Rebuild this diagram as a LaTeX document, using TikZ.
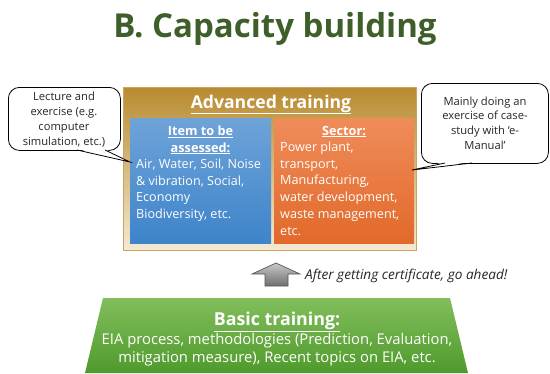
\documentclass[tikz,border=0pt]{standalone}
\usepackage{fontspec}
\setmainfont{Open Sans}
\usetikzlibrary{calc}
\definecolor{titlegreen}{HTML}{3F5F2A}
\definecolor{goldc}{HTML}{B98B30}
\definecolor{creamc}{HTML}{F4EAD2}
\definecolor{framec}{HTML}{C9A463}
\definecolor{blueA}{HTML}{6FA3D8}
\definecolor{blueB}{HTML}{3D84CA}
\definecolor{orangeA}{HTML}{EF8C5A}
\definecolor{orangeM}{HTML}{F07A2A}
\definecolor{orangeB}{HTML}{E2692A}
\definecolor{greenA}{HTML}{82BE5C}
\definecolor{greenB}{HTML}{4F9A2C}
\definecolor{grayA}{HTML}{C8C8C8}
\definecolor{grayB}{HTML}{6E6E6E}
\definecolor{grayC}{HTML}{555555}
\tikzset{
  titletext/.style={font=\fontsize{33}{38}\selectfont\bfseries, text=titlegreen, inner sep=0pt},
  panel/.style={inner sep=0pt, anchor=north west},
  headtext/.style={font=\fontsize{12.7}{16.8}\selectfont\bfseries, text=white, inner sep=0pt, align=center},
  bodytext/.style={font=\fontsize{12.6}{16.75}\selectfont, text=white, inner sep=0pt, align=left},
  callbox/.style={draw=black, line width=0.8pt, fill=white, rounded corners=11pt, inner sep=0pt, anchor=north west},
  calltext/.style={font=\fontsize{11.2}{14.7}\selectfont, text=black!85, inner sep=0pt, align=center},
  wedge/.style={draw=black, line width=0.8pt},
}
\begin{document}
\begin{tikzpicture}[x=1pt,y=-1pt]
\useasboundingbox (0,0) rectangle (550,373);
% title
\node[titletext, anchor=base] (title) at (275,37) {B. Capacity building};
% advanced training frame
\node[panel, minimum width=293pt, minimum height=163pt, top color=goldc, middle color=goldc, bottom color=creamc, draw=framec, line width=1pt] (adv) at (123,87) {};
\node[font=\fontsize{17.6}{22}\selectfont\bfseries, text=white, inner sep=0pt, anchor=base] (advt) at (271,108) {\underline{Advanced training}};
% blue panel
\node[panel, minimum width=141pt, minimum height=125pt, top color=blueA, bottom color=blueB] (item) at (130,118) {};
\node[headtext, anchor=base] (itemh) at (200.5,152) {\underline{Item to be}\\\underline{assessed:}};
\node[bodytext, anchor=base west] (itemb) at (136,218.5) {Air, Water, Soil, Noise\\\& vibration, Social,\\Economy\\Biodiversity, etc.};
% orange panel
\node[panel, minimum width=140pt, minimum height=125pt, top color=orangeA, middle color=orangeM, bottom color=orangeB] (sector) at (274,118) {};
\node[headtext, anchor=base] (sectorh) at (344,135) {\underline{Sector:}};
\node[bodytext, anchor=base west] (sectorb) at (280,235) {Power plant,\\transport,\\Manufacturing,\\water development,\\waste management,\\etc.};
% left callout
\node[callbox, minimum width=112pt, minimum height=63pt] (lcall) at (8,87) {};
\coordinate (ltip) at (130,162);
\fill[white] (77,149) -- (105,149) -- (ltip) -- cycle;
\draw[wedge] (77,150) -- (ltip) -- (105,150);
\node[calltext, anchor=base] (ltext) at (64,145) {Lecture and\\exercise (e.g.\\computer\\simulation, etc.)};
% right callout
\node[callbox, minimum width=127pt, minimum height=80pt] (rcall) at (421,83) {};
\coordinate (rtip) at (412,170);
\fill[white] (445,162) -- (472,162) -- (rtip) -- cycle;
\draw[wedge] (445,163) -- (rtip) -- (472,163);
\node[calltext, anchor=base] (rtext) at (485,149.3) {Mainly doing an\\exercise of case-\\study with ‘e-\\Manual’};
% up arrow
\shade[top color=grayA, bottom color=grayB, draw=grayC, line width=0.7pt]
  (265,286) -- (265,274) -- (252,274) -- (276,263) -- (300,274) -- (288,274) -- (288,286) -- cycle;
\node[font=\fontsize{13.6}{16}\selectfont\itshape, text=black!85, inner sep=0pt, anchor=base west] (go) at (305,279) {After getting certificate, go ahead!};
% basic training trapezoid
\shade[top color=greenA, bottom color=greenB] (103,298) -- (450,298) -- (468,373) -- (85,373) -- cycle;
\node[font=\fontsize{17.8}{22}\selectfont\bfseries, text=white, inner sep=0pt, anchor=base] (basich) at (277,325.5) {\underline{Basic training:}};
\node[font=\fontsize{14.8}{17.8}\selectfont, text=white, inner sep=0pt, align=center, anchor=base] (basicb) at (277,362.5) {EIA process, methodologies (Prediction, Evaluation,\\mitigation measure), Recent topics on EIA, etc.};
\end{tikzpicture}
\end{document}
